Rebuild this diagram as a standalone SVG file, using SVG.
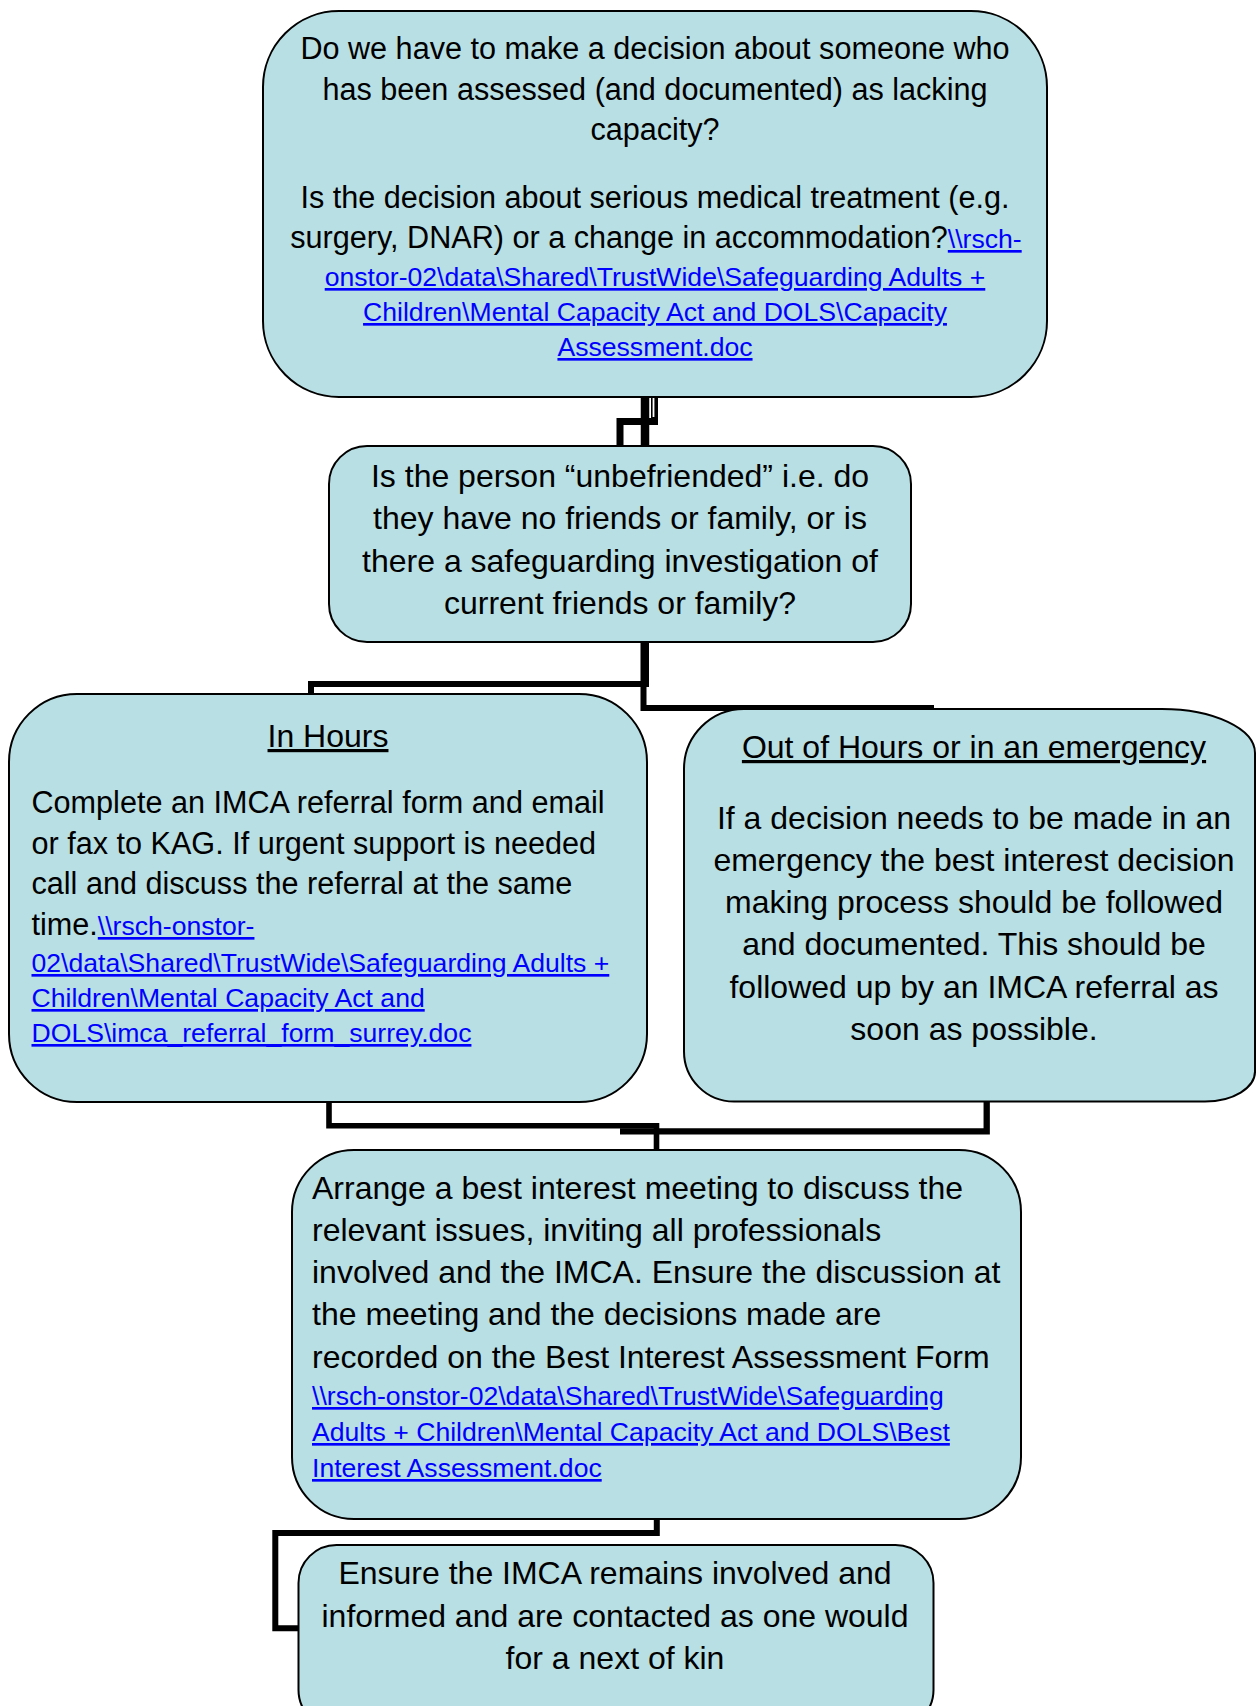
<svg xmlns="http://www.w3.org/2000/svg" width="1256" height="1706" viewBox="0 0 1256 1706">
<style>
.box{fill:#B8DFE3;stroke:#000;stroke-width:2}
.t{font-family:"Liberation Sans",Arial,Helvetica,sans-serif;fill:#000}
.s30{font-size:30.6px}
.s32{font-size:32px}
.lk{fill:#0000FF;text-decoration:underline;font-size:26.6px}
.ul{text-decoration:underline}
.mid{text-anchor:middle}
.conn{fill:none;stroke:#000;stroke-linejoin:miter;stroke-linecap:butt}
</style>
<rect width="1256" height="1706" fill="#fff"/>
<g id="connectors">
  <line class="conn" x1="645" y1="396" x2="645" y2="447" stroke-width="8.5"/>
  <path class="conn" d="M654.5 396 V421.5 H620 V447" stroke-width="7"/>
  <line x1="653.5" y1="398" x2="653.5" y2="417" stroke="#fff" stroke-width="1.8"/>
  <path class="conn" d="M646 641 V684 H311 V695" stroke-width="6"/>
  <path class="conn" d="M643.5 641 V708 H934" stroke-width="6"/>
  <path class="conn" d="M329 1101 V1125.8 H656.5 V1151" stroke-width="5.6"/>
  <path class="conn" d="M986.7 1101 V1131.3 H620" stroke-width="6.3"/>
  <path class="conn" d="M656.8 1518 V1533 H275.3 V1628.3 H300" stroke-width="6"/>
</g>
<g id="node-capacity">
  <rect class="box" x="263" y="11" width="784" height="386" rx="76" ry="76"/>
  <text class="t s30 mid" x="655" y="59">Do we have to make a decision about someone who</text>
  <text class="t s30 mid" x="655" y="100">has been assessed (and documented) as lacking</text>
  <text class="t s30 mid" x="655" y="140">capacity?</text>
  <text class="t s30 mid" x="655" y="208">Is the decision about serious medical treatment (e.g.</text>
  <text class="t s30 mid" x="656" y="248">surgery, DNAR) or a change in accommodation?<tspan class="lk">\\rsch-</tspan></text>
  <text class="t lk mid" x="655" y="286">onstor-02\data\Shared\TrustWide\Safeguarding Adults +</text>
  <text class="t lk mid" x="655" y="321">Children\Mental Capacity Act and DOLS\Capacity</text>
  <text class="t lk mid" x="655" y="356">Assessment.doc</text>
</g>
<g id="node-unbefriended">
  <rect class="box" x="329" y="446" width="582" height="196" rx="38" ry="38"/>
  <text class="t s32 mid" x="620" y="487">Is the person “unbefriended” i.e. do</text>
  <text class="t s32 mid" x="620" y="529">they have no friends or family, or is</text>
  <text class="t s32 mid" x="620" y="572">there a safeguarding investigation of</text>
  <text class="t s32 mid" x="620" y="614">current friends or family?</text>
</g>
<g id="node-in-hours">
  <rect class="box" x="9" y="694" width="638" height="408" rx="68" ry="68"/>
  <text class="t s32 mid ul" x="328" y="747">In Hours</text>
  <text class="t s30" x="31.5" y="813">Complete an IMCA referral form and email</text>
  <text class="t s30" x="31.5" y="854">or fax to KAG. If urgent support is needed</text>
  <text class="t s30" x="31.5" y="894">call and discuss the referral at the same</text>
  <text class="t s30" x="31.5" y="935">time.<tspan class="lk">\\rsch-onstor-</tspan></text>
  <text class="t lk" x="31.5" y="972">02\data\Shared\TrustWide\Safeguarding Adults +</text>
  <text class="t lk" x="31.5" y="1007">Children\Mental Capacity Act and</text>
  <text class="t lk" x="31.5" y="1042">DOLS\imca_referral_form_surrey.doc</text>
</g>
<g id="node-out-of-hours">
  <path class="box" d="M744 709 H1162 A93 44 0 0 1 1255 753 V1071 A50 30 0 0 1 1205 1101.5 H734 A50 50 0 0 1 684 1051.5 V769 A60 60 0 0 1 744 709 Z"/>
  <text class="t s32 mid ul" x="974" y="758">Out of Hours or in an emergency</text>
  <text class="t s32 mid" x="974" y="829">If a decision needs to be made in an</text>
  <text class="t s32 mid" x="974" y="871">emergency the best interest decision</text>
  <text class="t s32 mid" x="974" y="913">making process should be followed</text>
  <text class="t s32 mid" x="974" y="955">and documented. This should be</text>
  <text class="t s32 mid" x="974" y="998">followed up by an IMCA referral as</text>
  <text class="t s32 mid" x="974" y="1040">soon as possible.</text>
</g>
<g id="node-best-interest">
  <rect class="box" x="292" y="1150" width="729" height="369" rx="62" ry="62"/>
  <text class="t s32" x="312" y="1199">Arrange a best interest meeting to discuss the</text>
  <text class="t s32" x="312" y="1241">relevant issues, inviting all professionals</text>
  <text class="t s32" x="312" y="1283">involved and the IMCA. Ensure the discussion at</text>
  <text class="t s32" x="312" y="1325">the meeting and the decisions made are</text>
  <text class="t s32" x="312" y="1368">recorded on the Best Interest Assessment Form</text>
  <text class="t lk" x="312" y="1405">\\rsch-onstor-02\data\Shared\TrustWide\Safeguarding</text>
  <text class="t lk" x="312" y="1441">Adults + Children\Mental Capacity Act and DOLS\Best</text>
  <text class="t lk" x="312" y="1477">Interest Assessment.doc</text>
</g>
<g id="node-imca-involved">
  <rect class="box" x="298.5" y="1545" width="635" height="183" rx="38" ry="38"/>
  <text class="t s32 mid" x="615" y="1584">Ensure the IMCA remains involved and</text>
  <text class="t s32 mid" x="615" y="1627">informed and are contacted as one would</text>
  <text class="t s32 mid" x="615" y="1669">for a next of kin</text>
</g>
</svg>
